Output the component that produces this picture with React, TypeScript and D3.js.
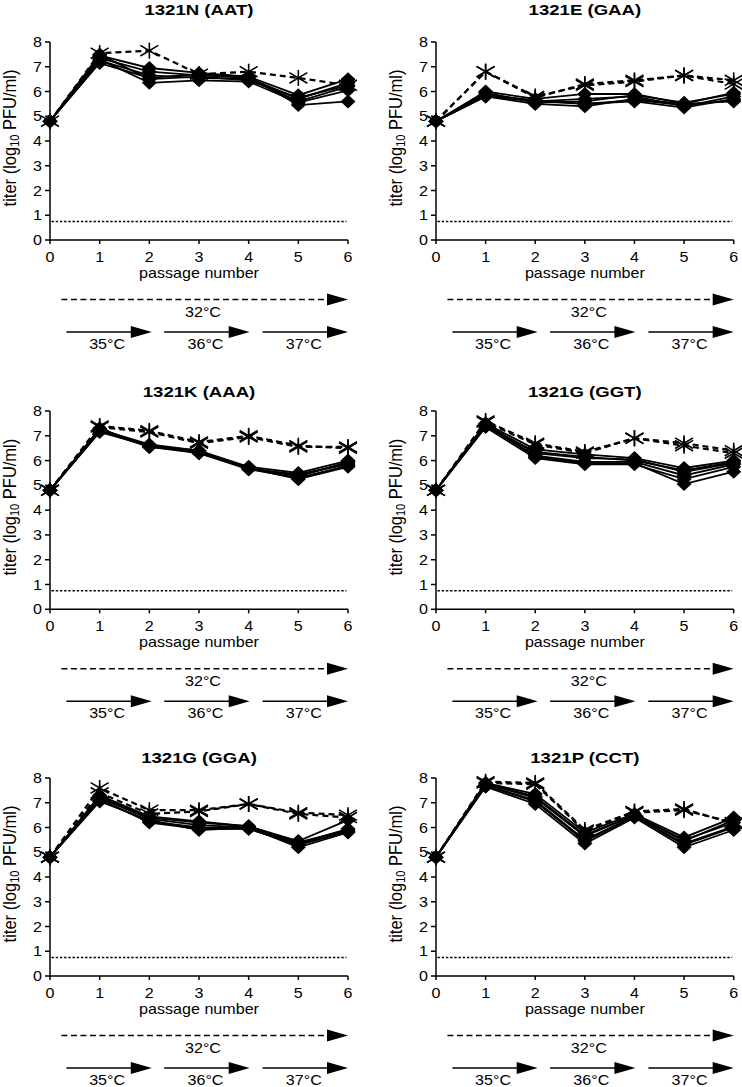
import React from 'react';
import * as d3 from 'd3';

const passages = [0, 1, 2, 3, 4, 5, 6];
const yTicks = [0, 1, 2, 3, 4, 5, 6, 7, 8];
const detectionLimit = 0.75;
const panelTitles = ['1321N (AAT)', '1321E (GAA)', '1321K (AAA)', '1321G (GGT)', '1321G (GGA)', '1321P (CCT)'];

const solidN = [
  [4.8, 7.45, 6.95, 6.75, 6.6, 5.85, 6.5],
  [4.8, 7.35, 6.8, 6.65, 6.55, 5.7, 6.35],
  [4.8, 7.25, 6.65, 6.55, 6.5, 5.6, 6.2],
  [4.8, 7.3, 6.35, 6.45, 6.4, 5.55, 6.05],
  [4.8, 7.15, 6.55, 6.7, 6.6, 5.45, 5.6],
  [4.8, 7.5, 6.5, 6.6, 6.45, 5.75, 6.25],
];
const dashedN = [
  [4.8, 7.55, 7.65, 6.7, 6.8, 6.55, 6.25],
];

const solidE = [
  [4.8, 6.0, 5.7, 5.9, 5.9, 5.5, 5.95],
  [4.8, 5.9, 5.6, 5.7, 5.8, 5.4, 5.8],
  [4.8, 5.8, 5.5, 5.4, 5.7, 5.5, 5.6],
  [4.8, 5.85, 5.65, 5.5, 5.6, 5.35, 5.7],
  [4.8, 5.95, 5.55, 5.6, 5.85, 5.55, 5.9],
  [4.8, 5.8, 5.6, 5.5, 5.65, 5.45, 5.65],
];
const dashedE = [
  [4.8, 6.8, 5.75, 6.3, 6.45, 6.65, 6.45],
  [4.8, 6.8, 5.8, 6.25, 6.4, 6.65, 6.3],
];

const solidK = [
  [4.8, 7.25, 6.65, 6.4, 5.75, 5.5, 6.0],
  [4.8, 7.2, 6.6, 6.35, 5.7, 5.4, 5.9],
  [4.8, 7.3, 6.55, 6.3, 5.65, 5.3, 5.8],
  [4.8, 7.15, 6.6, 6.3, 5.7, 5.25, 5.75],
  [4.8, 7.25, 6.6, 6.4, 5.65, 5.45, 5.85],
  [4.8, 7.2, 6.55, 6.35, 5.7, 5.35, 5.95],
];
const dashedK = [
  [4.8, 7.4, 7.2, 6.75, 7.0, 6.6, 6.5],
  [4.8, 7.35, 7.15, 6.7, 6.95, 6.55, 6.55],
];

const solidGGT = [
  [4.8, 7.5, 6.45, 6.25, 6.1, 5.7, 6.0],
  [4.8, 7.45, 6.3, 6.1, 6.05, 5.55, 5.9],
  [4.8, 7.4, 6.2, 5.95, 5.95, 5.4, 5.85],
  [4.8, 7.35, 6.1, 5.85, 5.85, 5.25, 5.75],
  [4.8, 7.5, 6.15, 5.9, 5.9, 5.05, 5.55],
  [4.8, 7.4, 6.35, 6.15, 6.0, 5.6, 5.95],
];
const dashedGGT = [
  [4.8, 7.6, 6.7, 6.35, 6.9, 6.7, 6.4],
  [4.8, 7.55, 6.65, 6.3, 6.9, 6.6, 6.3],
];

const solidGGA = [
  [4.8, 7.3, 6.45, 6.25, 6.05, 5.45, 6.3],
  [4.8, 7.2, 6.35, 6.1, 6.0, 5.35, 5.95],
  [4.8, 7.1, 6.25, 6.0, 5.95, 5.3, 5.85],
  [4.8, 7.05, 6.3, 5.9, 6.0, 5.2, 5.8],
  [4.8, 7.25, 6.4, 6.2, 6.05, 5.4, 5.9],
  [4.8, 7.15, 6.2, 5.95, 5.95, 5.3, 5.85],
];
const dashedGGA = [
  [4.8, 7.6, 6.7, 6.7, 6.95, 6.6, 6.5],
  [4.8, 7.4, 6.55, 6.65, 6.95, 6.55, 6.4],
];

const solidP = [
  [4.8, 7.8, 7.35, 5.8, 6.55, 5.6, 6.4],
  [4.8, 7.75, 7.2, 5.65, 6.5, 5.5, 6.2],
  [4.8, 7.7, 7.1, 5.5, 6.45, 5.35, 6.05],
  [4.8, 7.65, 6.95, 5.35, 6.4, 5.2, 5.9],
  [4.8, 7.8, 7.25, 5.7, 6.5, 5.45, 6.3],
  [4.8, 7.7, 7.05, 5.45, 6.45, 5.3, 6.0],
];
const dashedP = [
  [4.8, 7.85, 7.8, 5.9, 6.65, 6.75, 6.15],
  [4.8, 7.8, 7.75, 5.85, 6.6, 6.7, 6.2],
];

const solidSets = [solidN, solidE, solidK, solidGGT, solidGGA, solidP];
const dashedSets = [dashedN, dashedE, dashedK, dashedGGT, dashedGGA, dashedP];

const controlLabel = '32°C';
const controlRange = [0.23, 6.0];
const stageLabels = ['35°C', '36°C', '37°C'];
const stageRanges = [[0.33, 2.05], [2.3, 4.02], [4.28, 6.0]];
const stageLabelPos = [1.15, 3.13, 5.11];

const FONT = '"Liberation Sans", Arial, Helvetica, sans-serif';
const SX = 1.15;

const cols = [{ x0: 50, x1: 348 }, { x0: 436, x1: 733.7 }];
const rows = [
  { top: 42, bottom: 240, title: 10 },
  { top: 411, bottom: 609.3, title: 392 },
  { top: 778, bottom: 976, title: 758 },
];

function T({ x, y, children, anchor = 'middle', size = 14, weight = 'normal', sx = SX }: any) {
  return (
    <text
      transform={`translate(${x},${y}) scale(${sx},1)`}
      textAnchor={anchor}
      dominantBaseline="central"
      fontFamily={FONT}
      fontSize={size}
      fontWeight={weight}
      fill="#000"
    >
      {children}
    </text>
  );
}

function Diamond({ cx, cy }: any) {
  const w = 7.5, h = 7;
  return <path d={`M${cx},${cy - h}L${cx + w},${cy}L${cx},${cy + h}L${cx - w},${cy}Z`} fill="#000" />;
}

function Asterisk({ cx, cy }: any) {
  const dx = 9, dy = 5.3, v = 8;
  return (
    <g stroke="#000" strokeWidth={1.6} fill="none">
      <line x1={cx} y1={cy - v} x2={cx} y2={cy + v} />
      <line x1={cx - dx} y1={cy - dy} x2={cx + dx} y2={cy + dy} />
      <line x1={cx - dx} y1={cy + dy} x2={cx + dx} y2={cy - dy} />
    </g>
  );
}

function Arrow({ x1, x2, y, dashed }: any) {
  const len = 21, hh = 6;
  return (
    <g>
      <line x1={x1} y1={y} x2={x2 - len + 1} y2={y} stroke="#000" strokeWidth={1.6}
        strokeDasharray={dashed ? '6,3.5' : undefined} />
      <path d={`M${x2},${y}L${x2 - len},${y - hh}L${x2 - len},${y + hh}Z`} fill="#000" />
    </g>
  );
}

function Panel({ idx }: any) {
  const col = cols[idx % 2];
  const row = rows[Math.floor(idx / 2)];
  const x = d3.scaleLinear().domain([0, 6]).range([col.x0, col.x1]);
  const y = d3.scaleLinear().domain([0, 8]).range([row.bottom, row.top]);
  const line = d3.line<number>().x((_d, i) => x(passages[i])).y((d) => y(d));
  const solid = solidSets[idx];
  const dashed = dashedSets[idx];
  const midX = (col.x0 + col.x1) / 2;
  const midY = (row.top + row.bottom) / 2;
  const b = row.bottom;
  return (
    <g>
      <T x={midX} y={row.title} size={15.5} weight="bold" sx={1.2}>{panelTitles[idx]}</T>
      <text
        transform={`translate(${col.x0 - 40},${midY - 3}) scale(${SX},1) rotate(-90)`}
        textAnchor="middle"
        dominantBaseline="central"
        fontFamily={FONT}
        fontSize={16.5}
        fill="#000"
      >
        titer (log<tspan fontSize={11} dy={4}>10</tspan><tspan dy={-4}> PFU/ml)</tspan>
      </text>
      <g stroke="#000" strokeWidth={1.5} fill="none">
        <line x1={col.x0} y1={row.top} x2={col.x0} y2={row.bottom} />
        <line x1={col.x0} y1={row.bottom} x2={col.x1} y2={row.bottom} />
        {yTicks.map((t) => (
          <line key={'yt' + t} x1={col.x0 - 5} y1={y(t)} x2={col.x0} y2={y(t)} />
        ))}
        {passages.map((p) => (
          <line key={'xt' + p} x1={x(p)} y1={b} x2={x(p)} y2={b + 4} />
        ))}
      </g>
      {yTicks.map((t) => (
        <T key={'yl' + t} x={col.x0 - 8} y={y(t)} anchor="end">{t}</T>
      ))}
      {passages.map((p) => (
        <T key={'xl' + p} x={x(p)} y={b + 17}>{p}</T>
      ))}
      <T x={midX} y={b + 33}>passage number</T>
      <line x1={x(0) + 1.5} x2={x(6) - 1.5} y1={y(detectionLimit)} y2={y(detectionLimit)}
        stroke="#000" strokeWidth={1.5} strokeDasharray="2.4,1.8" />
      {solid.map((s, i) => (
        <path key={'sl' + i} d={line(s) || ''} fill="none" stroke="#000" strokeWidth={1.8} />
      ))}
      {solid.map((s, i) => (
        <g key={'sm' + i}>
          {s.map((v, j) => <Diamond key={j} cx={x(passages[j])} cy={y(v)} />)}
        </g>
      ))}
      {dashed.map((s, i) => (
        <path key={'dl' + i} d={line(s) || ''} fill="none" stroke="#000" strokeWidth={2.2} strokeDasharray="6,4" />
      ))}
      {dashed.map((s, i) => (
        <g key={'dm' + i}>
          {s.map((v, j) => <Asterisk key={j} cx={x(passages[j])} cy={y(v)} />)}
        </g>
      ))}
      <Arrow x1={x(controlRange[0])} x2={x(controlRange[1])} y={b + 59.5} dashed />
      <T x={x(3.08)} y={b + 71.5}>{controlLabel}</T>
      {stageRanges.map((r, i) => (
        <Arrow key={'sa' + i} x1={x(r[0])} x2={x(r[1])} y={b + 92} />
      ))}
      {stageLabels.map((l, i) => (
        <T key={'sl' + i} x={x(stageLabelPos[i])} y={b + 104}>{l}</T>
      ))}
    </g>
  );
}

export default function App() {
  return (
    <svg width={742} height={1087} style={{ position: 'absolute', left: 0, top: 0, background: '#fff' }}>
      <rect width={742} height={1087} fill="#fff" />
      {panelTitles.map((_t, i) => <Panel key={i} idx={i} />)}
    </svg>
  );
}
